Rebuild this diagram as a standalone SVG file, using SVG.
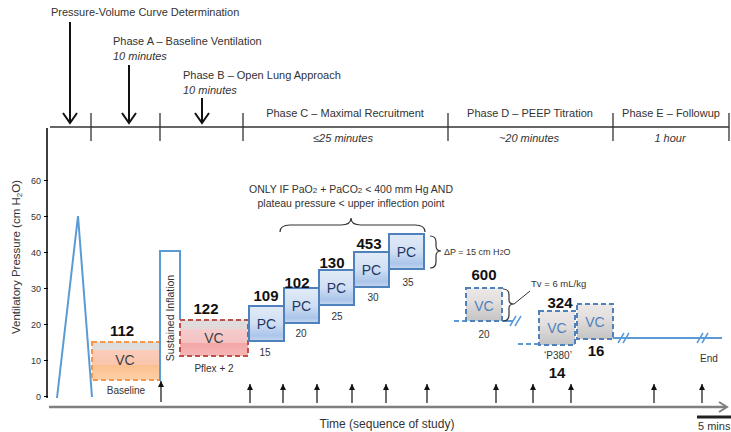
<svg xmlns="http://www.w3.org/2000/svg" width="731" height="432" viewBox="0 0 731 432">
<defs>
<style>
text{font-family:"Liberation Sans",Arial,sans-serif;fill:#333}
.ph{font-size:11px}
.phm{font-size:11px;text-anchor:middle}
.it{font-size:11px;font-style:italic}
.itm{font-size:11px;font-style:italic;text-anchor:middle}
.num{font-size:15px;font-weight:bold;fill:#111;text-anchor:middle}
.sm{font-size:10px;text-anchor:middle}
.tk{font-size:9px;text-anchor:end}
.blue{fill:none;stroke:#5b9bd5;stroke-width:2}
.dash{fill:none;stroke:#5b9bd5;stroke-width:2;stroke-dasharray:5 3}
.pc rect{fill:url(#gBlue);stroke:#4f81bd;stroke-width:2}
.pc text{font-size:14px;text-anchor:middle;fill:#1f3864}
.vcg rect{fill:url(#gGray);stroke:#4f81bd;stroke-width:2;stroke-dasharray:5 3}
.vcg text{font-size:14px;text-anchor:middle;fill:#4f81bd}
.v{font-size:14px;text-anchor:middle;fill:#404040}
.brace{fill:none;stroke:#333;stroke-width:1.2}
.up{stroke:#111;stroke-width:1.2;marker-end:url(#ah)}
.down{stroke:#111;stroke-width:2;fill:none}
.tl{stroke:#333;stroke-width:1.3}
</style>
<linearGradient id="gOrange" x1="0" y1="0" x2="0" y2="1">
<stop offset="0" stop-color="#dedcdc"/><stop offset="0.22" stop-color="#dedcdc"/>
<stop offset="0.22" stop-color="#f9ccbb"/><stop offset="0.6" stop-color="#f9c6ac"/>
<stop offset="0.6" stop-color="#fbbf8e"/><stop offset="1" stop-color="#fcd0a8"/>
</linearGradient>
<linearGradient id="gRed" x1="0" y1="0" x2="0" y2="1">
<stop offset="0" stop-color="#dfdcdc"/><stop offset="0.25" stop-color="#e2dada"/>
<stop offset="0.25" stop-color="#f5cccc"/><stop offset="0.65" stop-color="#f4c2c2"/>
<stop offset="0.65" stop-color="#f3a7a7"/><stop offset="1" stop-color="#f6b6b6"/>
</linearGradient>
<linearGradient id="gGray" x1="0" y1="0" x2="0" y2="1">
<stop offset="0" stop-color="#ece8e8"/><stop offset="0.4" stop-color="#e4dfdf"/>
<stop offset="0.65" stop-color="#d6d2d2"/><stop offset="1" stop-color="#c4c4c4"/>
</linearGradient>
<linearGradient id="gBlue" x1="0" y1="0" x2="0" y2="1">
<stop offset="0" stop-color="#e2ebf7"/><stop offset="0.5" stop-color="#d0dff3"/>
<stop offset="0.85" stop-color="#abc5ea"/><stop offset="1" stop-color="#c6d8f1"/>
</linearGradient>
<marker id="ah" viewBox="0 0 10 10" refX="10" refY="5" markerWidth="6" markerHeight="6" markerUnits="userSpaceOnUse" orient="auto">
<path d="M0,0 L10,5 L0,10 z" fill="#111"/>
</marker>
</defs>

<rect width="731" height="432" fill="#fff"/>

<!-- Top timeline -->
<g id="timeline">
<line class="tl" x1="50" y1="127" x2="729" y2="127"/>
<line class="tl" x1="91" y1="113" x2="91" y2="141"/>
<line class="tl" x1="160" y1="113" x2="160" y2="141"/>
<line class="tl" x1="243" y1="113" x2="243" y2="141"/>
<line class="tl" x1="448" y1="113" x2="448" y2="141"/>
<line class="tl" x1="613" y1="113" x2="613" y2="141"/>
<line class="tl" x1="729" y1="113" x2="729" y2="141"/>
<text class="ph" x="51" y="16" font-size="11.2">Pressure-Volume Curve Determination</text>
<text class="ph" x="113" y="45">Phase A – Baseline Ventilation</text>
<text class="it" x="113" y="60">10 minutes</text>
<text class="ph" x="183" y="79">Phase B – Open Lung Approach</text>
<text class="it" x="183" y="94">10 minutes</text>
<text class="phm" x="345" y="117">Phase C – Maximal Recruitment</text>
<text class="itm" x="343" y="142">≤25 minutes</text>
<text class="phm" x="530" y="117">Phase D – PEEP Titration</text>
<text class="itm" x="529" y="142">~20 minutes</text>
<text class="phm" x="671" y="117">Phase E – Followup</text>
<text class="itm" x="670" y="142">1 hour</text>
</g>

<!-- Axes -->
<g id="y-axis">
<line x1="47" y1="128" x2="47" y2="398" stroke="#000" stroke-width="1.5"/>
<g stroke="#000" stroke-width="1">
<line x1="44" y1="396.5" x2="48" y2="396.5"/>
<line x1="44" y1="360.5" x2="48" y2="360.5"/>
<line x1="44" y1="324.5" x2="48" y2="324.5"/>
<line x1="44" y1="288.5" x2="48" y2="288.5"/>
<line x1="44" y1="252.5" x2="48" y2="252.5"/>
<line x1="44" y1="216.5" x2="48" y2="216.5"/>
<line x1="44" y1="180.5" x2="48" y2="180.5"/>
</g>
<text class="tk" x="41" y="399.5">0</text>
<text class="tk" x="41" y="363.5">10</text>
<text class="tk" x="41" y="327.5">20</text>
<text class="tk" x="41" y="291.5">30</text>
<text class="tk" x="41" y="255.5">40</text>
<text class="tk" x="41" y="219.5">50</text>
<text class="tk" x="41" y="183.5">60</text>
<text x="20" y="257" font-size="11.5" text-anchor="middle" transform="rotate(-90 20 257)">Ventilatory Pressure (cm H<tspan font-size="8" dy="2">2</tspan><tspan dy="-2">O)</tspan></text>
</g>

<g id="x-axis">
<line x1="49" y1="407" x2="726" y2="407" stroke="#7f7f7f" stroke-width="2.5"/>
<polyline points="719,402 727,407 719,412" fill="none" stroke="#7f7f7f" stroke-width="2"/>
<text x="387" y="428" font-size="12" text-anchor="middle">Time (sequence of study)</text>
<line x1="697" y1="417" x2="731" y2="417" stroke="#222" stroke-width="3"/>
<text x="698" y="430" font-size="11">5 mins</text>
</g>

<!-- PV curve -->
<g id="pv-curve">
<polyline class="blue" points="57,398 78,216 92,397"/>
</g>

<!-- Baseline VC -->
<g id="baseline-vc">
<rect x="92" y="342" width="68" height="38" fill="url(#gOrange)" stroke="#f79646" stroke-width="2" stroke-dasharray="5 3"/>
<text class="v" x="125" y="365">VC</text>
<text class="num" x="122" y="336">112</text>
<text class="sm" x="126" y="394">Baseline</text>
</g>

<!-- Sustained inflation -->
<g id="sustained-inflation">
<path class="blue" d="M160,381 V251 H180 V320"/>
<text x="174" y="318" font-size="10.5" text-anchor="middle" transform="rotate(-90 174 318)">Sustained Inflation</text>
</g>

<!-- Pflex VC -->
<g id="pflex-vc">
<rect x="180" y="320" width="68" height="36" fill="url(#gRed)" stroke="#c0504d" stroke-width="2" stroke-dasharray="5 3"/>
<text class="v" x="214" y="343">VC</text>
<text class="num" x="206" y="314">122</text>
<text class="sm" x="214" y="372">Pflex + 2</text>
</g>

<!-- PC steps -->
<g id="pc1" class="pc"><rect x="249" y="306" width="35" height="35"/><text x="266.5" y="329">PC</text></g>
<g id="pc2" class="pc"><rect x="284" y="288" width="35" height="35"/><text x="301.5" y="311">PC</text></g>
<g id="pc3" class="pc"><rect x="319" y="270" width="35" height="35"/><text x="336.5" y="293">PC</text></g>
<g id="pc4" class="pc"><rect x="354" y="252" width="35" height="35"/><text x="371.5" y="275">PC</text></g>
<g id="pc5" class="pc"><rect x="389" y="234" width="35" height="35"/><text x="406.5" y="257">PC</text></g>
<g id="pc-labels">
<text class="num" x="266" y="301">109</text>
<text class="num" x="297" y="288">102</text>
<text class="num" x="332" y="268">130</text>
<text class="num" x="369" y="249">453</text>
<text class="sm" x="265" y="356">15</text>
<text class="sm" x="301" y="337">20</text>
<text class="sm" x="337" y="320">25</text>
<text class="sm" x="373" y="301">30</text>
<text class="sm" x="408" y="286">35</text>
</g>

<!-- Condition brace -->
<g id="condition">
<path class="brace" d="M280,232 Q280,225 290,225 L341,225 Q351,225 351,218 Q351,225 361,225 L415,225 Q425,225 425,232"/>
<text x="351" y="193" font-size="10.5" text-anchor="middle">ONLY IF PaO<tspan font-size="8">2</tspan> + PaCO<tspan font-size="8">2</tspan> &lt; 400 mm Hg AND</text>
<text x="351" y="207" font-size="10.5" text-anchor="middle">plateau pressure &lt; upper inflection point</text>
</g>

<g id="dp-brace">
<path class="brace" d="M430,236 Q436,236 436,242 L436,246 Q436,251 441,251 Q436,251 436,256 L436,262 Q436,268 430,268"/>
<text x="444" y="255" font-size="9">ΔP = 15 cm H<tspan font-size="7">2</tspan>O</text>
</g>

<!-- Phase D -->
<g id="peep-lines">
<line class="dash" x1="454" y1="321" x2="466" y2="321"/>
<line class="blue" x1="502" y1="321" x2="513" y2="321"/>
<path d="M510,326 L516,316 M515,326 L521,316" stroke="#5b9bd5" stroke-width="1.5" fill="none"/>
<line class="dash" x1="518" y1="344" x2="539" y2="344"/>
<line class="blue" x1="613" y1="338" x2="722" y2="338"/>
<path d="M618,343 L624,333 M623,343 L629,333" stroke="#5b9bd5" stroke-width="1.5" fill="none"/>
<path d="M697,343 L703,333 M702,343 L708,333" stroke="#5b9bd5" stroke-width="1.5" fill="none"/>
<text class="sm" x="709" y="362" font-size="10.5">End</text>
</g>

<g id="vc600" class="vcg">
<rect x="466" y="288" width="36" height="33"/>
<text x="484" y="311">VC</text>
</g>
<g id="vc600-labels">
<text class="num" x="484" y="280">600</text>
<text class="sm" x="484" y="338">20</text>
<path class="brace" d="M503,289 Q509,289 509,295 L509,300 Q509,304 514,304 Q509,304 509,308 L509,315 Q509,321 503,321"/>
<line x1="514" y1="304" x2="530" y2="291" stroke="#333" stroke-width="1"/>
<text x="531" y="287" font-size="9.5">Tv = 6 mL/kg</text>
</g>

<g id="vc324" class="vcg">
<rect x="539" y="311" width="36" height="34"/>
<text x="557" y="333">VC</text>
</g>
<g id="vc324-labels">
<text class="num" x="560" y="308">324</text>
<text class="sm" x="558" y="359" font-size="9.5">‘P380’</text>
<text class="num" x="557" y="378">14</text>
</g>

<g id="vc16" class="vcg">
<rect x="577" y="304" width="36" height="35"/>
<text x="595" y="327">VC</text>
</g>
<text class="num" x="596" y="356">16</text>

<!-- Connectors -->
<g id="connectors">
<line class="down" x1="70" y1="22" x2="70" y2="122"/>
<polyline class="down" points="63,113 70,123 77,113"/>
<line class="down" x1="129" y1="65" x2="129" y2="122"/>
<polyline class="down" points="122,113 129,123 136,113"/>
<line class="down" x1="202" y1="98" x2="202" y2="122"/>
<polyline class="down" points="195,113 202,123 209,113"/>
<line class="up" x1="161" y1="402" x2="161" y2="381"/>
<line class="up" x1="250" y1="403" x2="250" y2="384"/>
<line class="up" x1="283" y1="403" x2="283" y2="384"/>
<line class="up" x1="317" y1="403" x2="317" y2="384"/>
<line class="up" x1="352" y1="403" x2="352" y2="384"/>
<line class="up" x1="386" y1="403" x2="386" y2="384"/>
<line class="up" x1="427" y1="403" x2="427" y2="384"/>
<line class="up" x1="496" y1="403" x2="496" y2="384"/>
<line class="up" x1="533" y1="403" x2="533" y2="384"/>
<line class="up" x1="571" y1="403" x2="571" y2="384"/>
<line class="up" x1="654" y1="403" x2="654" y2="384"/>
<line class="up" x1="702" y1="403" x2="702" y2="384"/>
</g>
</svg>
